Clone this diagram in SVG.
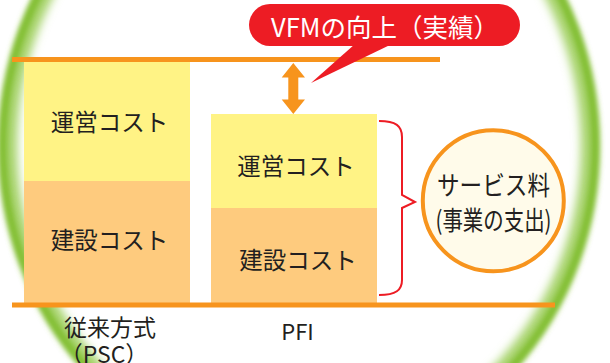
<svg xmlns="http://www.w3.org/2000/svg" width="610" height="363" viewBox="0 0 610 363">
<style>
  .t { font-family: "Noto Sans CJK JP", "Noto Sans", sans-serif; fill: #231f20; text-anchor: middle; dominant-baseline: central; }
  .line { stroke: #f7941d; stroke-width: 5; fill: none; }
  .yel { fill: #fff385; }
  .org { fill: #fecb7e; }
</style>
<defs>
  <filter id="blur" x="-10%" y="-10%" width="120%" height="120%"><feGaussianBlur stdDeviation="2.5"/></filter>
  <filter id="blur2" x="-10%" y="-10%" width="120%" height="120%"><feGaussianBlur stdDeviation="5"/></filter>
</defs>
<rect width="610" height="363" fill="#ffffff"/>
<g id="ring">
  <ellipse cx="299" cy="146" rx="289" ry="311" fill="none" stroke="#a6d36a" stroke-width="14" filter="url(#blur2)"/>
  <ellipse cx="299" cy="146" rx="296" ry="318" fill="none" stroke="#84c036" stroke-width="10" filter="url(#blur)"/>
</g>
<g id="psc">
  <rect class="yel" x="24" y="62" width="166" height="119"/>
  <rect class="org" x="24" y="181" width="166" height="122"/>
  <text class="t" x="109.5" y="121" font-size="23.5">運営コスト</text>
  <text class="t" x="109.5" y="238.5" font-size="23.5">建設コスト</text>
  <text class="t" x="110" y="326" font-size="23">従来方式</text>
  <text class="t" x="104" y="353" font-size="23">（PSC）</text>
</g>
<g id="pfi">
  <rect class="yel" x="211" y="114" width="166" height="94"/>
  <rect class="org" x="211" y="208" width="166" height="95"/>
  <text class="t" x="296" y="165" font-size="23.5">運営コスト</text>
  <text class="t" x="298" y="258.5" font-size="23.5">建設コスト</text>
  <text class="t" x="297.5" y="330" font-size="22">PFI</text>
</g>
<g id="connectors">
  <line class="line" x1="12" y1="59.5" x2="440" y2="59.5"/>
  <line class="line" x1="12" y1="305" x2="555" y2="305"/>
  <polygon fill="#f7941d" points="293.3,63 305,77.5 298.3,77.5 298.3,99.5 305,99.5 293.3,114 281.7,99.5 288.3,99.5 288.3,77.5 281.7,77.5"/>
  <path d="M379,121 C396,121 402,126 402,137 L402,195 L415,202 L402,208 L402,280 C402,290 396,295 379,295" fill="none" stroke="#ed1c24" stroke-width="2"/>
</g>
<g id="bubble">
  <polygon fill="#ed1c24" points="355,44 392,44 311,83"/>
  <rect x="249" y="4" width="271" height="42" rx="21" ry="21" fill="#ed1c24"/>
  <text class="t" x="385" y="25" font-size="25.5" style="fill:#ffffff">VFMの向上（実績）</text>
</g>
<g id="service">
  <circle cx="493.3" cy="200.8" r="70.5" fill="#fffbea" stroke="#f7941d" stroke-width="4"/>
  <text class="t" x="493.5" y="183" font-size="26" textLength="113" lengthAdjust="spacingAndGlyphs">サービス料</text>
  <text class="t" x="493.5" y="218" font-size="26" textLength="116" lengthAdjust="spacingAndGlyphs">(事業の支出)</text>
</g>
</svg>
